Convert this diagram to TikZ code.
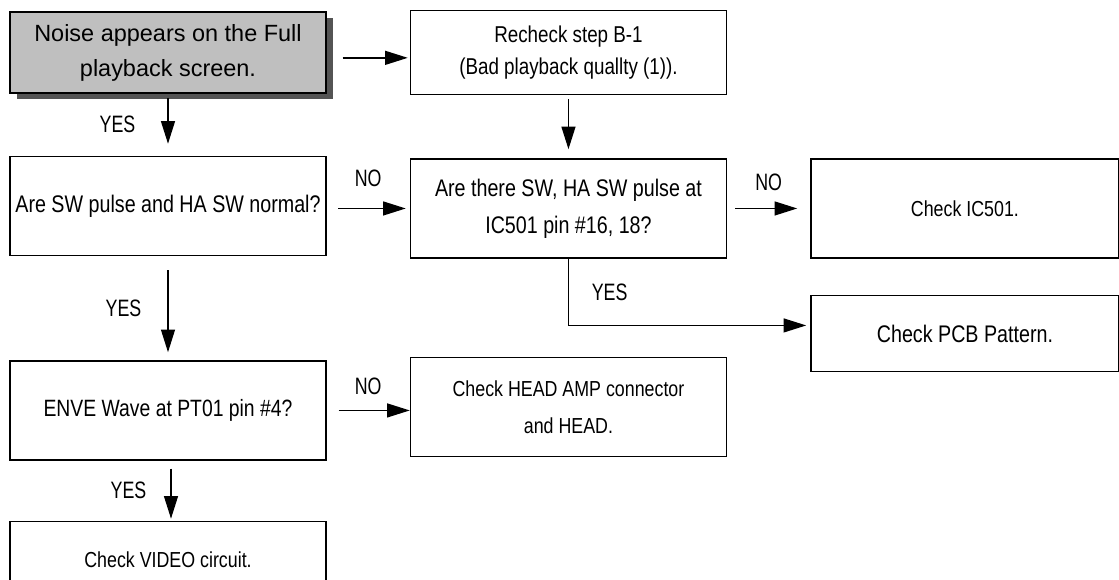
\documentclass[tikz,border=0pt]{standalone}
\usepackage{fontspec}
\setmainfont{Liberation Sans}
\newfontfamily\narrowfont[FakeStretch=0.82]{Liberation Sans}
\newfontfamily\labelfont[FakeStretch=0.75]{Liberation Sans}
\usetikzlibrary{positioning,arrows.meta,shadows}

\begin{document}
\begin{tikzpicture}
            [%%%%%%%%%%%%%%%%%%%%%%%%%%%%%%%%%%%%%%%%%%%%%%%%%%%%%%%%%%
                x=0.75pt,y=-0.75pt,
                node distance=62.25pt,>={Triangle[length=17pt,width=10.5pt]},
                box/.style={rectangle,draw,line width=1.1pt,align=center,
                            inner sep=2pt,minimum width=237pt,minimum height=74.25pt},
                startbox/.style={box,fill=black!25,minimum height=60.75pt,
                            drop shadow={shadow xshift=5pt,shadow yshift=-4.5pt,
                                         fill=black!67,opacity=1},
                            font=\fontsize{17.6pt}{26.25pt}\selectfont},
                askbox/.style={box,font=\narrowfont\fontsize{18pt}{27.75pt}\selectfont},
                checkbox/.style={box,font=\narrowfont\fontsize{16.3pt}{27.75pt}\selectfont},
                flow/.style={->,line width=1pt},
                lbl/.style={inner sep=0pt,font=\labelfont\fontsize{17.8pt}{20pt}\selectfont}
            ]%%%%%%%%%%%%%%%%%%%%%%%%%%%%%%%%%%%%%%%%%%%%%%%%%%%%%%%%%%
            \useasboundingbox (0,0) rectangle (1119,579);

            \node[startbox] (noise) at (168,52.5) {Noise appears on the Full\\playback screen.};
            \node[askbox,minimum height=63pt,font=\narrowfont\fontsize{17.2pt}{24pt}\selectfont]
                 (recheck) [right=of noise] {Recheck step B-1\\(Bad playback quallty (1)).};
            \node[askbox] (swq) [below=46.5pt of noise] {Are SW pulse and HA SW normal?};
            \node[askbox] (icq) [below=47.25pt of recheck] {Are there SW, HA SW pulse at\\IC501 pin \#16, 18?};
            \node[checkbox,minimum width=231pt] (ic501) [right=of icq] {Check IC501.};
            \node[askbox,minimum width=231pt,minimum height=57pt] (pcb) [below=27pt of ic501] {Check PCB Pattern.};
            \node[askbox,font=\narrowfont\fontsize{17.7pt}{27.75pt}\selectfont]
                 (enve) [below=78pt of swq] {ENVE Wave at PT01 pin \#4?};
            \node[checkbox] (head) [below=73.5pt of icq] {Check HEAD AMP connector\\and HEAD.};
            \node[checkbox,minimum height=57pt] (video) [below=45pt of enve] {Check VIDEO circuit.};

            \draw [flow,shorten <=12pt,shorten >=1.5pt] ([yshift=-4pt]noise.east) -- ([yshift=-4pt]recheck.west);
            \draw [flow,shorten <=3pt,shorten >=9pt] (noise.south) -- node[lbl,left=24pt] {YES} (swq.north);
            \draw [flow,shorten <=3pt,shorten >=6.75pt] (recheck.south) -- (icq.north);
            \draw [flow,shorten <=8.5pt,shorten >=3pt] (swq.east |- icq.west) -- node[lbl,above=16pt] {NO} (icq.west);
            \draw [flow,shorten <=6pt,shorten >=9.75pt] (icq.east) -- node[lbl,above=12.5pt] {NO} (ic501.west);
            \draw [flow,shorten >=3pt] (icq.south) |- node[lbl,pos=0.25,right=17pt] {YES} ([yshift=6pt]pcb.west);
            \draw [flow,shorten <=10.5pt,shorten >=6pt] (swq.south) -- node[lbl,left=19.5pt] {YES} (enve.north);
            \draw [flow,shorten <=9pt] (enve.east) -- node[lbl,above=11.5pt] {NO} (enve.east -| head.west);
            \draw [flow,shorten <=6pt,shorten >=1.5pt] ([xshift=2.25pt]enve.south) -- node[lbl,left=18pt] {YES} ([xshift=2.25pt]video.north);
        \end{tikzpicture}
\end{document}
